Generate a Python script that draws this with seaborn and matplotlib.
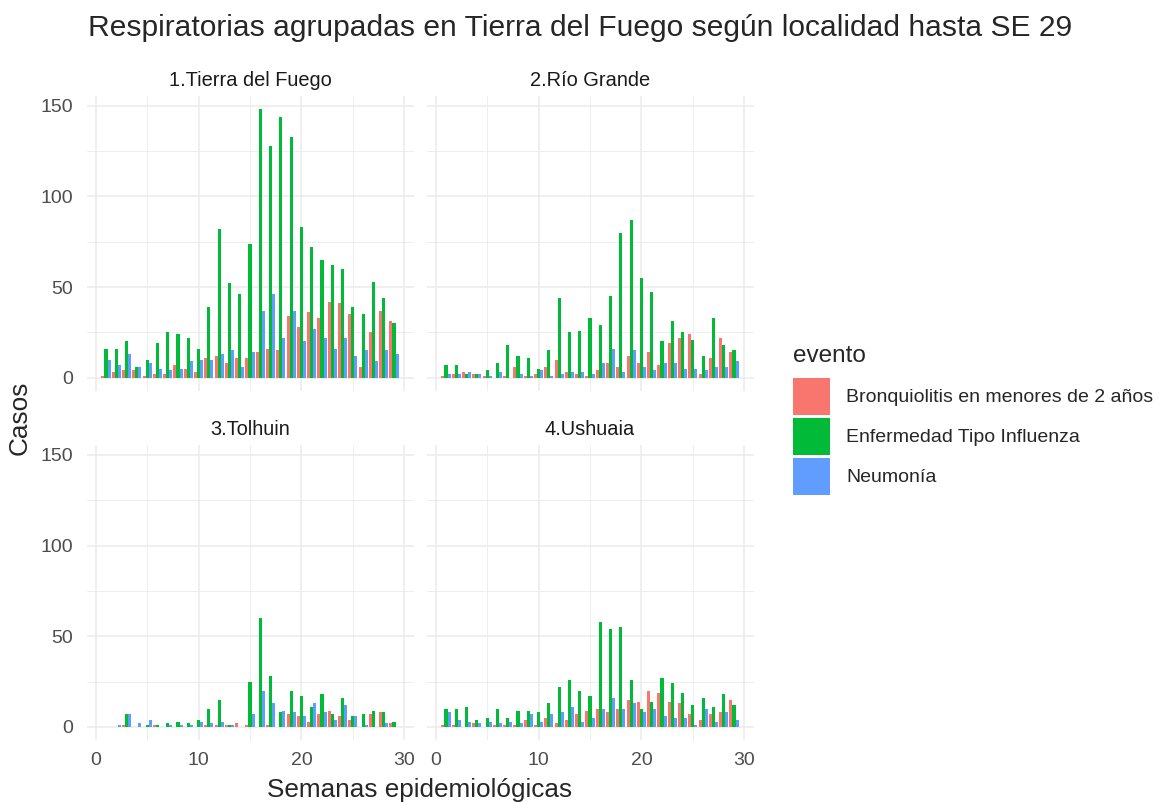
import matplotlib
matplotlib.use("Agg")
import matplotlib.pyplot as plt
from matplotlib.patches import Patch
import pandas as pd
import seaborn as sns

# --- datos ---
semanas = list(range(1, 30))
eventos = ["Bronquiolitis en menores de 2 años", "Enfermedad Tipo Influenza", "Neumonía"]
localidades = ["1.Tierra del Fuego", "2.Río Grande", "3.Tolhuin", "4.Ushuaia"]
colores = ["#F8766D", "#00BA38", "#619CFF"]

tdf_bronq = [1, 3, 4, 4, 1, 2, 2, 7, 5, 3, 11, 12, 8, 11, 11, 14, 16, 15, 34, 28, 36, 33, 42, 41, 35, 6, 25, 37, 31]
tdf_eti = [16, 16, 20, 6, 10, 19, 25, 24, 22, 16, 39, 82, 52, 46, 74, 148, 128, 144, 133, 83, 72, 65, 62, 60, 39, 35, 53, 44, 30]
tdf_neumo = [10, 7, 13, 6, 8, 5, 4, 5, 9, 10, 10, 13, 15, 6, 14, 37, 46, 22, 37, 20, 27, 22, 16, 22, 12, 15, 9, 15, 13]

rg_bronq = [1, 2, 3, 2, 1, 0, 1, 6, 1, 2, 6, 10, 3, 2, 1, 4, 8, 6, 12, 8, 14, 7, 19, 22, 24, 2, 11, 22, 14]
rg_eti = [7, 7, 2, 2, 4, 8, 18, 12, 11, 5, 15, 44, 25, 26, 33, 29, 45, 80, 87, 55, 47, 20, 31, 25, 21, 12, 33, 18, 15]
rg_neumo = [2, 2, 3, 2, 1, 3, 0, 2, 1, 4, 1, 2, 3, 3, 2, 8, 16, 3, 15, 6, 4, 8, 8, 5, 5, 4, 6, 6, 9]

tol_bronq = [0, 0, 1, 0, 0, 1, 0, 0, 0, 0, 1, 1, 1, 2, 1, 0, 1, 0, 7, 6, 3, 7, 9, 6, 4, 0, 7, 8, 2]
tol_eti = [0, 0, 7, 0, 1, 1, 2, 3, 2, 4, 10, 15, 1, 0, 25, 60, 28, 8, 20, 17, 11, 18, 7, 16, 6, 7, 9, 8, 3]
tol_neumo = [0, 1, 7, 2, 4, 0, 1, 1, 1, 3, 2, 3, 1, 0, 7, 20, 13, 9, 8, 6, 13, 8, 4, 12, 6, 1, 0, 2, 0]

ush_bronq = [1, 1, 0, 2, 0, 1, 1, 1, 4, 1, 5, 2, 4, 7, 9, 10, 8, 10, 15, 14, 20, 19, 14, 13, 7, 4, 7, 8, 15]
ush_eti = [10, 10, 11, 4, 5, 10, 5, 9, 9, 8, 13, 22, 26, 20, 17, 58, 54, 55, 26, 10, 14, 27, 24, 19, 12, 16, 11, 18, 12]
ush_neumo = [8, 4, 3, 2, 3, 2, 3, 2, 7, 3, 7, 8, 11, 3, 5, 10, 16, 10, 13, 8, 10, 6, 5, 5, 1, 10, 3, 8, 4]

series = {
    localidades[0]: [tdf_bronq, tdf_eti, tdf_neumo],
    localidades[1]: [rg_bronq, rg_eti, rg_neumo],
    localidades[2]: [tol_bronq, tol_eti, tol_neumo],
    localidades[3]: [ush_bronq, ush_eti, ush_neumo],
}

rows = []
for loc, valores_loc in series.items():
    for evento, valores in zip(eventos, valores_loc):
        for semana, v in zip(semanas, valores):
            rows.append({"localidad": loc, "evento": evento, "semana": semana, "casos": v})
df = pd.DataFrame(rows)

# --- estilo ---
sns.set_style("white")
plt.rcParams["font.family"] = ["Liberation Sans", "DejaVu Sans"]

W, H = 1160, 802
fig = plt.figure(figsize=(W / 100, H / 100), dpi=100)

panel_w, panel_h = 327, 295.2
panel_origin = [(86.5, 95.9), (426.5, 95.9), (86.5, 445.2), (426.5, 445.2)]

# escalas fijas como en facet_wrap (expansión 5%)
ymax = df["casos"].max()
ylim = (-0.05 * ymax, ymax * 1.05)
xlim = (0.55 - 0.05 * 28.9, 29.45 + 0.05 * 28.9)

for i, loc in enumerate(localidades):
    x0, y0 = panel_origin[i]
    ax = fig.add_axes([x0 / W, 1 - (y0 + panel_h) / H, panel_w / W, panel_h / H])
    sub = df[df["localidad"] == loc]
    sns.barplot(
        data=sub, x="semana", y="casos", hue="evento", hue_order=eventos,
        palette=colores, native_scale=True, orient="x", width=0.9, gap=0,
        errorbar=None, saturation=1, linewidth=0, legend=False, ax=ax,
    )
    ax.set_xlim(*xlim)
    ax.set_ylim(*ylim)
    ax.set_xticks([0, 10, 20, 30])
    ax.set_xticks([5, 15, 25], minor=True)
    ax.set_yticks([0, 50, 100, 150])
    ax.set_yticks([25, 75, 125], minor=True)
    ax.grid(which="major", color="#EBEBEB", linewidth=1.1)
    ax.grid(which="minor", color="#EBEBEB", linewidth=0.6)
    ax.set_axisbelow(True)
    for s in ax.spines.values():
        s.set_visible(False)
    ax.tick_params(which="both", length=0, labelsize=14, labelcolor="#4D4D4D")
    ax.tick_params(axis="y", pad=9.5)
    ax.tick_params(axis="x", pad=8)
    if i < 2:
        ax.tick_params(axis="x", labelbottom=False)
    if i % 2 == 1:
        ax.tick_params(axis="y", labelleft=False)
    ax.set_xlabel("")
    ax.set_ylabel("")
    ax.set_title(loc, fontsize=14.4, color="#1A1A1A", pad=7.2)

fig.text(88 / W, 1 - 36 / H, "Respiratorias agrupadas en Tierra del Fuego según localidad hasta SE 29",
         fontsize=21.6, ha="left", va="baseline")
fig.text(20 / W, 1 - 418 / H, "Casos", fontsize=18.8, rotation=90, ha="center", va="center")
fig.text(420 / W, 1 - 797 / H, "Semanas epidemiológicas", fontsize=18.8, ha="center", va="baseline")

# leyenda
fig.text(793 / W, 1 - 362 / H, "evento", fontsize=17.5, ha="left", va="baseline")
handles = [Patch(facecolor=c, edgecolor="none") for c in colores]
fig.legend(handles, eventos, loc="upper left",
           bbox_to_anchor=(793 / W, 1 - 378 / H), frameon=False,
           fontsize=14, handlelength=1.9, handleheight=2.55,
           handletextpad=0.82, labelspacing=0.15, borderpad=0, borderaxespad=0)

fig.savefig("out.png", dpi=100)
